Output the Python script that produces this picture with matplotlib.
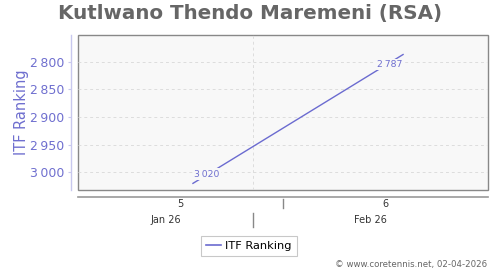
import matplotlib
matplotlib.use("Agg")
import matplotlib.pyplot as plt
import matplotlib.dates as mdates
from matplotlib.lines import Line2D

title = "Kutlwano Thendo Maremeni (RSA)"
series_name = "ITF Ranking"
dates = ["2026-01-30", "2026-02-06"]
ranks = [3020, 2787]
rank_labels = ["3\u2009020", "2\u2009787"]
yticks = [2800, 2850, 2900, 2950, 3000]
ytick_labels = ["2\u2009800", "2\u2009850", "2\u2009900", "2\u2009950", "3\u2009000"]
week_labels = ["5", "6"]
week_bounds = ["2026-02-02"]
month_labels = ["Jan 26", "Feb 26"]
month_bounds = ["2026-02-01"]
footer = "\u00a9 www.coretennis.net, 02-04-2026"

LINE = "#6b6bd0"
TXT = "#6f6fcf"

fig = plt.figure(figsize=(5, 2.7), dpi=100)
ax = fig.add_axes([78/500, 1-190/270, 410/500, 155/270])
ax.set_facecolor("#f8f8f8")

x = mdates.datestr2num(dates)
ax.plot(x, ranks, color=LINE, lw=1.0, zorder=2)

xl = mdates.datestr2num("2026-01-26") + 0.17
xr = mdates.datestr2num("2026-02-08") + 0.83
ax.set_xlim(xl, xr)
ax.set_ylim(3032, 2751.7)

# data labels
offs = [(14, 9), (-13, -10)]
for xi, yi, lab, (dx, dy) in zip(x, ranks, rank_labels, offs):
    ax.annotate(lab, (xi, yi), xytext=(dx, dy), textcoords="offset pixels",
                ha="center", va="center", fontsize=6.7, color=TXT,
                bbox=dict(boxstyle="square,pad=0.15", fc="#f8f8f8", ec="none"), zorder=3)

ax.set_yticks(yticks)
ax.set_yticklabels(ytick_labels)
ax.tick_params(axis="y", length=2.5, width=0.8, color="#c8c8ee", pad=2.5, labelsize=9, labelcolor=TXT)
ax.set_xticks(mdates.datestr2num(month_bounds))
ax.tick_params(axis="x", length=0, labelbottom=False)
ax.grid(True, color="#dddddd", ls=(0, (3, 3)), lw=0.7)

for s in ["top", "right"]:
    ax.spines[s].set_visible(False)
ax.spines["left"].set_position(("outward", 5))
ax.spines["left"].set_color("#c8c8ee")
ax.spines["left"].set_linewidth(1.0)
ax.spines["bottom"].set_position(("outward", 5))
ax.spines["bottom"].set_color("#999999")
ax.spines["bottom"].set_linewidth(1.2)
ax.patch.set_edgecolor("#888888")
ax.patch.set_linewidth(1.0)

ax.set_ylabel(series_name, fontsize=10.5, color=TXT)
ax.yaxis.set_label_coords((29 - 78) / 410, 0.5)

# week labels & separators
tr = ax.get_xaxis_transform()
wb = list(mdates.datestr2num(week_bounds))
edges = [xl] + wb + [xr]
for i, lab in enumerate(week_labels):
    c = (edges[i] + edges[i+1]) / 2
    ax.text(c, -14/155, lab, transform=tr, ha="center", va="center", fontsize=7, color="#333333")
for b in wb:
    ax.add_line(Line2D([b, b], [-9/155, -18/155], transform=tr, color="#888888", lw=1, clip_on=False))
mb = list(mdates.datestr2num(month_bounds))
edges = [xl] + mb + [xr]
for i, lab in enumerate(month_labels):
    c = (edges[i] + edges[i+1]) / 2
    ax.text(c, -30/155, lab, transform=tr, ha="center", va="center", fontsize=7, color="#333333")
for b in mb:
    ax.add_line(Line2D([b, b], [-23/155, -37/155], transform=tr, color="#888888", lw=1, clip_on=False))

fig.text(0.5, 1-13/270, title, ha="center", va="center", fontsize=14.3,
         fontweight="bold", color="#666666")

leg = fig.legend([Line2D([], [], color=LINE, lw=1.2)], [series_name],
                 loc="center", bbox_to_anchor=(249/500, 1-246/270), fontsize=8.2,
                 frameon=True, fancybox=False, edgecolor="#bbbbbb",
                 handlelength=1.3, handletextpad=0.4, borderpad=0.45, borderaxespad=0)
leg.get_frame().set_linewidth(0.8)

fig.text(487/500, 1-264/270, footer, ha="right", va="center", fontsize=6.2, color="#666666")

fig.savefig("out.png", dpi=100)
